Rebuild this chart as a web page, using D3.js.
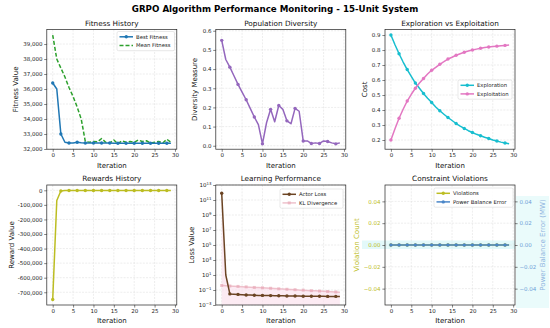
<!DOCTYPE html>
<html><head><meta charset="utf-8">
<script src="https://cdn.jsdelivr.net/npm/d3@7"></script>
<style>body{margin:0;background:#fff}svg{display:block}text{font-family:"DejaVu Sans",sans-serif}</style>
</head><body><svg id="c" width="550" height="328"></svg>
<script>
// ---------------- DATA ----------------
const iterations = [0,1,2,3,4,5,6,7,8,9,10,11,12,13,14,15,16,17,18,19,20,21,22,23,24,25,26,27,28,29];
const bestFitness = [36400,36000,33000,32450,32400,32400,32450,32420,32400,32400,32400,32400,32400,32400,32400,32380,32380,32380,32380,32380,32380,32380,32380,32380,32380,32380,32380,32380,32380,32380];
const meanFitness = [39600,38000,37400,36800,36100,35500,34800,34000,32500,32450,32500,32480,32700,32450,32400,32600,32350,32550,32450,32500,32450,32600,32500,32550,32400,32450,32500,32400,32650,32450];
const diversity = [0.55,0.45,0.41,0.365,0.32,0.28,0.24,0.195,0.15,0.11,0.01,0.12,0.19,0.125,0.21,0.19,0.13,0.115,0.195,0.18,0.025,0.025,0.012,0.015,0.012,0.025,0.022,0.015,0.01,0.015];
const exploration = [0.9,0.835,0.775,0.72,0.67,0.625,0.58,0.545,0.51,0.478,0.45,0.42,0.395,0.372,0.35,0.33,0.31,0.293,0.277,0.262,0.25,0.238,0.228,0.218,0.21,0.2,0.193,0.186,0.18,0.175];
const exploitation = [0.2,0.275,0.345,0.405,0.46,0.505,0.545,0.58,0.61,0.64,0.665,0.685,0.705,0.722,0.74,0.752,0.765,0.775,0.785,0.793,0.8,0.806,0.812,0.817,0.82,0.823,0.826,0.829,0.831,0.833];
const rewards = [-750000,-70000,-5000,-2000,-1500,-1200,-1100,-1000,-1000,-1000,-1000,-1000,-1000,-1000,-1000,-1000,-1000,-1000,-1000,-1000,-1000,-1000,-1000,-1000,-1000,-1000,-1000,-1000,-1000,-1000];
const actorLoss = [8e11,10,0.03,0.028,0.026,0.024,0.022,0.021,0.02,0.019,0.019,0.018,0.018,0.017,0.017,0.017,0.016,0.016,0.016,0.016,0.015,0.015,0.015,0.015,0.015,0.015,0.014,0.014,0.014,0.014];
const klDivergence = [0.4,0.37,0.34,0.32,0.3,0.28,0.26,0.24,0.22,0.21,0.195,0.18,0.17,0.155,0.145,0.135,0.125,0.118,0.11,0.1,0.095,0.088,0.082,0.077,0.072,0.067,0.063,0.059,0.055,0.052];
const violations = [0,0,0,0,0,0,0,0,0,0,0,0,0,0,0,0,0,0,0,0,0,0,0,0,0,0,0,0,0,0];
const powerBalanceError = [0,0,0,0,0,0,0,0,0,0,0,0,0,0,0,0,0,0,0,0,0,0,0,0,0,0,0,0,0,0];

const xTicks = [0,5,10,15,20,25,30];
const fitnessTicks = [32000,33000,34000,35000,36000,37000,38000,39000];
const diversityTicks = [0,0.1,0.2,0.3,0.4,0.5,0.6];
const costTicks = [0.2,0.3,0.4,0.5,0.6,0.7,0.8,0.9];
const rewardTicks = [0,-100000,-200000,-300000,-400000,-500000,-600000,-700000];
const lossTicks = [1e-3,1e-1,1e1,1e3,1e5,1e7,1e9,1e11,1e13];
const violationTicks = [-0.04,-0.02,0,0.02,0.04];

// ---------------- LAYOUT ----------------
const svg = d3.select("#c");
const F = {tick:5.5, label:7, title:7.3, legend:5.3, main:8.7};
const rowsY = [[29.6,149.2],[185,305]];
const colsX = [[46.8,176.8],[215.8,345.8],[385,515]];
const xDomain = [-1.45,30.45];

svg.append("text").attr("x",275).attr("y",11.5).attr("text-anchor","middle")
  .attr("font-size",F.main).attr("font-weight","bold").attr("fill","#000")
  .text("GRPO Algorithm Performance Monitoring - 15-Unit System");

function padded(arrs){
  const all = arrs.flat();
  const lo = d3.min(all), hi = d3.max(all), p = (hi-lo)*0.05;
  return [lo-p, hi+p];
}

function makePanel(o){
  const [l,r] = colsX[o.col], [t,b] = rowsY[o.row];
  const g = svg.append("g");
  const x = d3.scaleLinear().domain(xDomain).range([l,r]);
  const y = (o.log ? d3.scaleLog() : d3.scaleLinear()).domain(o.yDomain).range([b,t]);
  const gg = g.append("g").attr("stroke","#dadada").attr("stroke-width",0.5).attr("stroke-dasharray","2,1.2");
  xTicks.forEach(v=>gg.append("line").attr("x1",x(v)).attr("x2",x(v)).attr("y1",t).attr("y2",b));
  o.yTicks.forEach(v=>gg.append("line").attr("x1",l).attr("x2",r).attr("y1",y(v)).attr("y2",y(v)));
  const ax = g.append("g").attr("transform",`translate(0,${b})`)
    .call(d3.axisBottom(x).tickValues(xTicks).tickSize(2.6).tickPadding(1.6).tickFormat(d3.format("d")));
  const ay = g.append("g").attr("transform",`translate(${l},0)`)
    .call(d3.axisLeft(y).tickValues(o.yTicks).tickSize(2.6).tickPadding(1.8).tickFormat(o.fmt || (d=>d)));
  [ax,ay].forEach(a=>{
    a.select(".domain").remove();
    a.selectAll("line").attr("stroke","#333").attr("stroke-width",0.6);
    a.selectAll("text").attr("font-size",F.tick).attr("fill",o.tickColor && a===ay ? o.tickColor : "#222")
      .attr("font-family","DejaVu Sans");
  });
  if (o.log){
    ay.selectAll("text").each(function(d){
      const e = Math.round(Math.log10(d));
      const s = d3.select(this); s.text("10");
      s.append("tspan").attr("dy",-2.4).attr("font-size",3.9).text(e<0 ? "\u2212"+(-e) : String(e));
    });
  }
  const spine = ()=> g.append("rect").attr("x",l).attr("y",t).attr("width",r-l).attr("height",b-t)
    .attr("fill","none").attr("stroke","#222").attr("stroke-width",0.7);
  g.append("text").attr("x",(l+r)/2).attr("y",t-3.7).attr("text-anchor","middle")
    .attr("font-size",F.title).attr("fill","#111").text(o.title);
  g.append("text").attr("x",(l+r)/2).attr("y",b+18.3).attr("text-anchor","middle")
    .attr("font-size",F.label).attr("fill","#111").text("Iteration");
  g.append("text").attr("transform",`translate(${o.ylx},${(t+b)/2}) rotate(-90)`).attr("dy","0.35em")
    .attr("text-anchor","middle").attr("font-size",F.label).attr("fill",o.ylColor||"#111").text(o.ylabel);
  return {g,x,y,l,r,t,b,spine};
}

function series(P, data, color, opt={}){
  const line = d3.line().x((d,i)=>P.x(iterations[i])).y(d=>P.y(d));
  P.g.append("path").datum(data).attr("d",line).attr("fill","none").attr("stroke",color)
    .attr("stroke-width",opt.lw||1.5).attr("stroke-dasharray",opt.dash||null).attr("opacity",opt.op||1)
    .attr("stroke-linejoin","round");
  if (opt.marker!==false){
    const pts = data.map((d,i)=>[i,d]).filter(p=>p[0]%2===0);
    P.g.selectAll(null).data(pts).enter().append(opt.square?"rect":"circle")
      .each(function(p){
        const s = d3.select(this);
        if (opt.square) s.attr("x",P.x(iterations[p[0]])-1.5).attr("y",P.y(p[1])-1.5).attr("width",3).attr("height",3);
        else s.attr("cx",P.x(iterations[p[0]])).attr("cy",P.y(p[1])).attr("r",1.7);
      }).attr("fill",color).attr("opacity",opt.op||1);
  }
}

function legend(P, x0, y0, w, items){
  const h = items.length*8.6+2;
  P.g.append("rect").attr("x",x0).attr("y",y0).attr("width",w).attr("height",h).attr("rx",1.5)
    .attr("fill","#fff").attr("fill-opacity",0.85).attr("stroke","#d0d0d0").attr("stroke-width",0.5);
  items.forEach((it,i)=>{
    const cy = y0+5.3+i*8.6;
    P.g.append("line").attr("x1",x0+2.5).attr("x2",x0+16).attr("y1",cy).attr("y2",cy)
      .attr("stroke",it.color).attr("stroke-width",1.5).attr("stroke-dasharray",it.dash||null).attr("opacity",it.op||1);
    if (it.marker) {
      if (it.square) P.g.append("rect").attr("x",x0+9.25-1.5).attr("y",cy-1.5).attr("width",3).attr("height",3).attr("fill",it.color).attr("opacity",it.op||1);
      else P.g.append("circle").attr("cx",x0+9.25).attr("cy",cy).attr("r",1.7).attr("fill",it.color);
    }
    P.g.append("text").attr("x",x0+19).attr("y",cy+1.9).attr("font-size",F.legend).attr("fill","#222").text(it.label);
  });
}

// ---------------- PANEL 1 ----------------
let P = makePanel({row:0,col:0,title:"Fitness History",ylabel:"Fitness Value",ylx:15.7,
  yDomain:padded([bestFitness,meanFitness]),yTicks:fitnessTicks,fmt:d3.format(",")});
series(P, meanFitness, "#2ca02c", {dash:"4,2", marker:false});
series(P, bestFitness, "#1f77b4");
P.spine();
legend(P, 117, 31.5, 57.5, [{label:"Best Fitness",color:"#1f77b4",marker:true},{label:"Mean Fitness",color:"#2ca02c",dash:"4,2"}]);

// ---------------- PANEL 2 ----------------
P = makePanel({row:0,col:1,title:"Population Diversity",ylabel:"Diversity Measure",ylx:195,
  yDomain:[-0.018,0.606],yTicks:diversityTicks,fmt:d3.format(".1f")});
series(P, diversity, "#9467bd");
P.spine();

// ---------------- PANEL 3 ----------------
P = makePanel({row:0,col:2,title:"Exploration vs Exploitation",ylabel:"Cost",ylx:365,
  yDomain:padded([exploration,exploitation]),yTicks:costTicks,fmt:d3.format(".1f")});
series(P, exploration, "#17becf");
series(P, exploitation, "#e377c2");
P.spine();
legend(P, 458, 80, 54, [{label:"Exploration",color:"#17becf",marker:true},{label:"Exploitation",color:"#e377c2",marker:true}]);

// ---------------- PANEL 4 ----------------
P = makePanel({row:1,col:0,title:"Rewards History",ylabel:"Reward Value",ylx:11.7,
  yDomain:padded([rewards]),yTicks:rewardTicks,fmt:d=>d3.format(",")(d).replace("\u2212","-")});
series(P, rewards, "#bcbd22");
P.spine();

// ---------------- PANEL 5 ----------------
P = makePanel({row:1,col:1,title:"Learning Performance",ylabel:"Loss Value",ylx:191.7,
  yDomain:[1e-3,1e13],yTicks:lossTicks,log:true});
{
  const top = actorLoss.map((d,i)=>Math.max(d,klDivergence[i]));
  const area = d3.area().x((d,i)=>P.x(iterations[i])).y0(P.b).y1(d=>P.y(d));
  P.g.append("path").datum(top).attr("d",area).attr("fill","#fbe3ee").attr("opacity",0.7);
}
series(P, klDivergence, "#e8a9b8", {square:true, op:0.7});
series(P, actorLoss, "#6b4423");
P.spine();
legend(P, 280, 189, 63, [{label:"Actor Loss",color:"#6b4423",marker:true},{label:"KL Divergence",color:"#e8a9b8",marker:true,square:true,op:0.7}]);

// ---------------- PANEL 6 ----------------
P = makePanel({row:1,col:2,title:"Constraint Violations",ylabel:"Violation Count",ylx:357,ylColor:"#bcbd22",
  yDomain:[-0.055,0.055],yTicks:violationTicks,fmt:d3.format(".2f"),tickColor:"#bcbd22"});
{
  P.g.insert("rect",":first-child").attr("x",362).attr("y",240.5).attr("width",P.r-362).attr("height",8.5).attr("fill","#e3f9fa");
  P.g.insert("rect",":first-child").attr("x",P.r+1).attr("y",196).attr("width",33).attr("height",112).attr("fill","#eafbfb");
  const yR = d3.scaleLinear().domain([-0.055,0.055]).range([P.b,P.t]);
  const ar = P.g.append("g").attr("transform",`translate(${P.r},0)`)
    .call(d3.axisRight(yR).tickValues(violationTicks).tickSize(2.6).tickPadding(1.8).tickFormat(d3.format(".2f")));
  ar.select(".domain").remove();
  ar.selectAll("line").attr("stroke","#333").attr("stroke-width",0.6);
  ar.selectAll("text").attr("font-size",F.tick).attr("fill","#6f9fd8");
  P.g.append("text").attr("transform",`translate(542.7,${(P.t+P.b)/2}) rotate(-90)`).attr("dy","0.35em")
    .attr("text-anchor","middle").attr("font-size",F.label).attr("fill","#8fb4e0").text("Power Balance Error (MW)");
}
series(P, violations, "#bcbd22");
series(P, powerBalanceError, "#4a86c8");
P.spine();
legend(P, 434, 188, 79, [{label:"Violations",color:"#bcbd22",marker:true},{label:"Power Balance Error",color:"#4a86c8",marker:true}]);
</script></body></html>
